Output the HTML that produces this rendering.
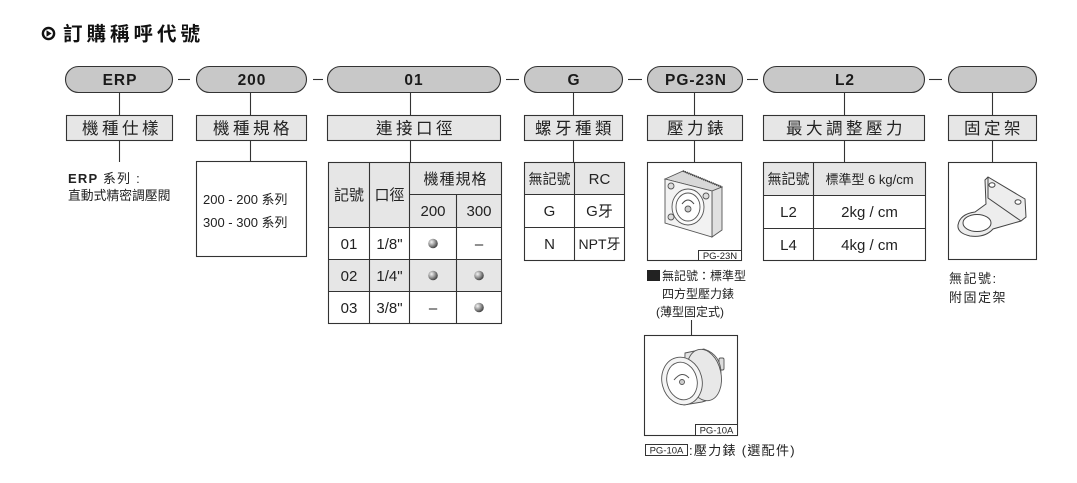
<!DOCTYPE html>
<html><head><meta charset="utf-8">
<style>
html,body{margin:0;padding:0;background:#fff;}
svg{display:block;}
text{font-family:"Liberation Sans","Noto Sans CJK TC",sans-serif;fill:#222;}
</style></head>
<body>
<svg width="1077" height="483" viewBox="0 0 1077 483" xmlns="http://www.w3.org/2000/svg">
<defs>
<radialGradient id="ball" cx="0.35" cy="0.35" r="0.7">
<stop offset="0" stop-color="#f4f4f4"/>
<stop offset="0.5" stop-color="#9a9a9a"/>
<stop offset="1" stop-color="#3a3a3a"/>
</radialGradient>
</defs>

<!-- Title -->
<circle cx="48.5" cy="33.5" r="5.6" fill="none" stroke="#111" stroke-width="2.4"/>
<path d="M46.5 30.3 L51.6 33.5 L46.5 36.7 Z" fill="#111"/>
<text x="63" y="40.5" font-size="19.5" font-weight="bold" letter-spacing="4" style="fill:#111">訂購稱呼代號</text>

<!-- pills -->
<g stroke="#333" stroke-width="1.1" fill="#c8c8c8">
<rect x="65.5" y="66.5" width="107" height="26" rx="13" ry="13"/>
<rect x="196.5" y="66.5" width="110" height="26" rx="13" ry="13"/>
<rect x="327.5" y="66.5" width="173" height="26" rx="13" ry="13"/>
<rect x="524.5" y="66.5" width="98" height="26" rx="13" ry="13"/>
<rect x="647.5" y="66.5" width="95" height="26" rx="13" ry="13"/>
<rect x="763.5" y="66.5" width="161" height="26" rx="13" ry="13"/>
<rect x="948.5" y="66.5" width="88" height="26" rx="13" ry="13"/>
</g>
<g stroke="#333" stroke-width="1.1">
<line x1="178" y1="79.5" x2="190" y2="79.5"/>
<line x1="313" y1="79.5" x2="323" y2="79.5"/>
<line x1="506" y1="79.5" x2="519" y2="79.5"/>
<line x1="628" y1="79.5" x2="642" y2="79.5"/>
<line x1="747" y1="79.5" x2="758" y2="79.5"/>
<line x1="929" y1="79.5" x2="942" y2="79.5"/>
</g>
<g font-size="15.5" font-weight="bold" text-anchor="middle" letter-spacing="1">
<text x="120" y="85" style="fill:#1a1a1a">ERP</text>
<text x="252" y="85" style="fill:#1a1a1a">200</text>
<text x="414" y="85" style="fill:#1a1a1a">01</text>
<text x="574" y="85" style="fill:#1a1a1a">G</text>
<text x="696" y="85" style="fill:#1a1a1a">PG-23N</text>
<text x="845" y="85" style="fill:#1a1a1a">L2</text>
</g>

<!-- connectors -->
<g stroke="#333" stroke-width="1.1">
<line x1="119.5" y1="92" x2="119.5" y2="115"/>
<line x1="119.5" y1="140" x2="119.5" y2="162"/>
<line x1="250.5" y1="92" x2="250.5" y2="115"/>
<line x1="250.5" y1="140" x2="250.5" y2="162"/>
<line x1="410.5" y1="92" x2="410.5" y2="115"/>
<line x1="410.5" y1="140" x2="410.5" y2="162"/>
<line x1="573.5" y1="92" x2="573.5" y2="115"/>
<line x1="573.5" y1="140" x2="573.5" y2="162"/>
<line x1="694.5" y1="92" x2="694.5" y2="115"/>
<line x1="694.5" y1="140" x2="694.5" y2="162"/>
<line x1="844.5" y1="92" x2="844.5" y2="115"/>
<line x1="844.5" y1="140" x2="844.5" y2="162"/>
<line x1="992.5" y1="92" x2="992.5" y2="115"/>
<line x1="992.5" y1="140" x2="992.5" y2="162"/>
<line x1="691.5" y1="320" x2="691.5" y2="335"/>
</g>

<!-- label boxes -->
<g stroke="#333" stroke-width="1.1" fill="#e6e6e6">
<rect x="66.5" y="115.5" width="106" height="25"/>
<rect x="196.5" y="115.5" width="110" height="25"/>
<rect x="327.5" y="115.5" width="173" height="25"/>
<rect x="524.5" y="115.5" width="98" height="25"/>
<rect x="647.5" y="115.5" width="95" height="25"/>
<rect x="763.5" y="115.5" width="161" height="25"/>
<rect x="948.5" y="115.5" width="88" height="25"/>
</g>
<g font-size="16.5" text-anchor="middle" letter-spacing="3.5">
<text x="122" y="134">機種仕樣</text>
<text x="253" y="134">機種規格</text>
<text x="416" y="134">連接口徑</text>
<text x="575" y="134">螺牙種類</text>
<text x="697" y="134">壓力錶</text>
<text x="846" y="134">最大調整壓力</text>
<text x="994" y="134">固定架</text>
</g>

<!-- ERP description -->
<text x="68" y="183" font-size="13" font-weight="bold" letter-spacing="1.2">ERP <tspan font-weight="normal">系列 :</tspan></text>
<text x="68" y="200" font-size="12.8">直動式精密調壓閥</text>

<!-- 200 box -->
<rect x="196.5" y="161.5" width="110" height="95" fill="#fff" stroke="#333" stroke-width="1.1"/>
<text x="203" y="204" font-size="13">200 - 200 系列</text>
<text x="203" y="227" font-size="13">300 - 300 系列</text>

<!-- 01 table -->
<rect x="328.5" y="162.5" width="173" height="65" fill="#e6e6e6"/>
<rect x="328.5" y="259.5" width="173" height="32" fill="#e6e6e6"/>
<g stroke="#333" stroke-width="1.1" fill="none">
<rect x="328.5" y="162.5" width="173" height="161"/>
<line x1="409.5" y1="194.5" x2="501.5" y2="194.5"/>
<line x1="328.5" y1="227.5" x2="501.5" y2="227.5"/>
<line x1="328.5" y1="259.5" x2="501.5" y2="259.5"/>
<line x1="328.5" y1="291.5" x2="501.5" y2="291.5"/>
<line x1="369.5" y1="162.5" x2="369.5" y2="323.5"/>
<line x1="409.5" y1="162.5" x2="409.5" y2="323.5"/>
<line x1="456.5" y1="194.5" x2="456.5" y2="323.5"/>
</g>
<g font-size="15" text-anchor="middle">
<text x="349" y="200">記號</text>
<text x="389.5" y="200">口徑</text>
<text x="455.5" y="184" letter-spacing="1">機種規格</text>
<text x="433" y="216">200</text>
<text x="479" y="216">300</text>
<text x="349" y="249">01</text>
<text x="389.5" y="249">1/8"</text>
<text x="479" y="249">–</text>
<text x="349" y="281">02</text>
<text x="389.5" y="281">1/4"</text>
<text x="349" y="313">03</text>
<text x="389.5" y="313">3/8"</text>
<text x="433" y="313">–</text>
</g>
<g fill="url(#ball)">
<circle cx="433" cy="243.5" r="4.8"/>
<circle cx="433" cy="275.5" r="4.8"/>
<circle cx="479" cy="275.5" r="4.8"/>
<circle cx="479" cy="307.5" r="4.8"/>
</g>

<!-- G table -->
<rect x="524.5" y="162.5" width="100" height="32" fill="#e6e6e6"/>
<g stroke="#333" stroke-width="1.1" fill="none">
<rect x="524.5" y="162.5" width="100" height="98"/>
<line x1="524.5" y1="194.5" x2="624.5" y2="194.5"/>
<line x1="524.5" y1="227.5" x2="624.5" y2="227.5"/>
<line x1="574.5" y1="162.5" x2="574.5" y2="260.5"/>
</g>
<g font-size="15" text-anchor="middle">
<text x="549.5" y="184" font-size="14">無記號</text>
<text x="599.5" y="184">RC</text>
<text x="549.5" y="216">G</text>
<text x="599.5" y="216">G牙</text>
<text x="549.5" y="249">N</text>
<text x="599.5" y="249" font-size="14">NPT牙</text>
</g>

<!-- PG-23N box -->
<rect x="647.5" y="162.5" width="94" height="98" fill="#fff" stroke="#333" stroke-width="1.1"/>
<rect x="698.5" y="250.5" width="43" height="10" fill="#fff" stroke="#333" stroke-width="1"/>
<text x="720" y="259" font-size="9.5" text-anchor="middle">PG-23N</text>
<g stroke="#555" stroke-width="0.9" fill="#f2f2f2">
<path d="M665 179 L683 171 L722 187 L712 191 Z" fill="#d8d8d8"/>
<path d="M712 191 L722 187 L722 230 L712 237 Z" fill="#e0e0e0"/>
<path d="M665 179 L712 191 L712 237 L665 223 Z"/>
<ellipse cx="688" cy="207" rx="16" ry="18" fill="#fafafa"/>
<ellipse cx="688" cy="207" rx="12" ry="14" fill="#fff"/>
<circle cx="671" cy="186" r="3" fill="#ddd"/>
<circle cx="706" cy="196" r="3" fill="#ddd"/>
<circle cx="671" cy="217" r="3" fill="#ddd"/>
<circle cx="688" cy="209" r="3" fill="#ccc"/>
</g>
<path d="M683 171 L722 187" stroke="#444" stroke-width="2" stroke-dasharray="1 1"/>
<path d="M682 204 q6 -8 12 0" stroke="#444" stroke-width="1" fill="none"/>

<rect x="647" y="270" width="13" height="11" fill="#222"/>
<text x="662" y="280" font-size="12">無記號：標準型</text>
<text x="662" y="298" font-size="12">四方型壓力錶</text>
<text x="656" y="316" font-size="12">(薄型固定式)</text>

<!-- L2 table -->
<rect x="763.5" y="162.5" width="162" height="33" fill="#e6e6e6"/>
<g stroke="#333" stroke-width="1.1" fill="none">
<rect x="763.5" y="162.5" width="162" height="98"/>
<line x1="763.5" y1="195.5" x2="925.5" y2="195.5"/>
<line x1="763.5" y1="228.5" x2="925.5" y2="228.5"/>
<line x1="813.5" y1="162.5" x2="813.5" y2="260.5"/>
</g>
<g font-size="15" text-anchor="middle">
<text x="788.5" y="184" font-size="14">無記號</text>
<text x="869.5" y="184" font-size="13">標準型 6 kg/cm</text>
<text x="788.5" y="217">L2</text>
<text x="869.5" y="217">2kg / cm</text>
<text x="788.5" y="250">L4</text>
<text x="869.5" y="250">4kg / cm</text>
</g>

<!-- bracket box -->
<rect x="948.5" y="162.5" width="88" height="97" fill="#fff" stroke="#333" stroke-width="1.1"/>
<g stroke="#444" stroke-width="1" fill="#ededed">
<path d="M985 180 L988 177 L1025 199 L1026 217 L1021 221 L993 229 Q985 238 970 236 Q957 233 958 225 Q960 214 975 212 L986 204 Z"/>
<path d="M988 177 L988 198 L1021 221" fill="none"/>
<ellipse cx="977" cy="223" rx="14" ry="8.5" fill="#fff"/>
<ellipse cx="992" cy="185" rx="3" ry="2.3" fill="#fff"/>
<ellipse cx="1018" cy="202" rx="3" ry="2.3" fill="#fff"/>
</g>
<text x="949" y="283" font-size="13" letter-spacing="1.5">無記號:</text>
<text x="949" y="302" font-size="13" letter-spacing="1.5">附固定架</text>

<!-- PG-10A box -->
<rect x="644.5" y="335.5" width="93" height="100" fill="#fff" stroke="#333" stroke-width="1.1"/>
<rect x="695.5" y="424.5" width="42" height="11" fill="#fff" stroke="#333" stroke-width="1"/>
<text x="716.5" y="433.5" font-size="9.5" text-anchor="middle">PG-10A</text>
<g stroke="#555" stroke-width="0.9">
<rect x="719" y="358" width="5" height="12" rx="1.5" fill="#ddd"/>
<path d="M685 353 L704 349 Q722 355 721 376 Q719 398 702 402 L684 405 Z" fill="#e4e4e4"/>
<ellipse cx="704" cy="375" rx="17" ry="26" fill="#e8e8e8" transform="rotate(-12 704 375)"/>
<ellipse cx="682" cy="381" rx="20" ry="24" fill="#f4f4f4" transform="rotate(-15 682 381)"/>
<ellipse cx="682" cy="381" rx="15" ry="19" fill="#fff" transform="rotate(-15 682 381)"/>
<circle cx="682" cy="382" r="2.5" fill="#ccc"/>
</g>
<path d="M674 380 q8 -10 15 -2" stroke="#555" stroke-width="1" fill="none"/>

<rect x="645.5" y="444.5" width="42" height="11" fill="#fff" stroke="#333" stroke-width="1"/>
<text x="666.5" y="453.5" font-size="9.5" text-anchor="middle">PG-10A</text>
<text x="689" y="455" font-size="13" letter-spacing="1.3">:壓力錶 (選配件)</text>
</svg>
</body></html>
